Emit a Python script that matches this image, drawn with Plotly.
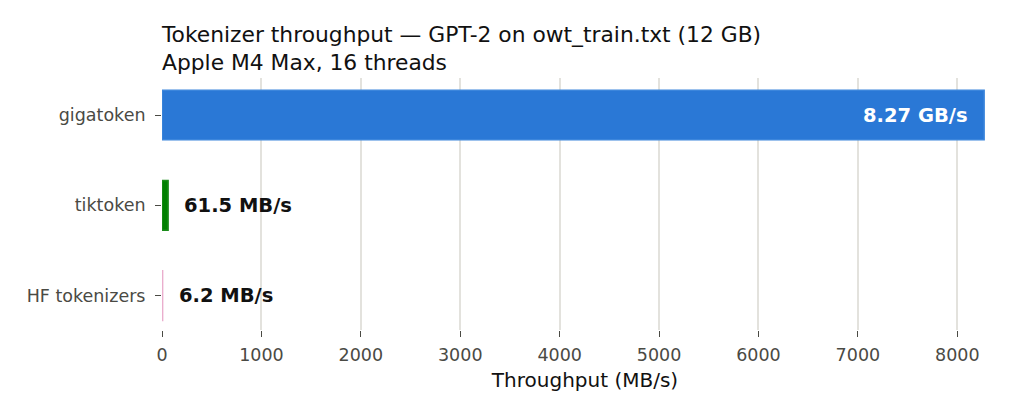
import plotly.graph_objects as go

# data
tokenizers = ['gigatoken', 'tiktoken', 'HF tokenizers']
throughput = [8270, 61.5, 6.2]  # MB/s
labels = ['8.27 GB/s', '61.5 MB/s', '6.2 MB/s']
colors = ['#2a78d6', '#008000', '#e8a6c8']
line_colors = ['#3c86dc', '#1a8c1a', '#eaaecd']
x_ticks = [0, 1000, 2000, 3000, 4000, 5000, 6000, 7000, 8000]

FONT = 'DejaVu Sans'
TICK_GREY = '#4a4a44'

fig = go.Figure()
fig.add_trace(go.Bar(
    y=tokenizers,
    x=throughput,
    orientation='h',
    width=0.55,
    marker=dict(color=colors, line=dict(color=line_colors, width=1.5)),
    hoverinfo='skip',
))

# value labels: the big bar gets its label inside, the small ones outside
for name, val, lab in zip(tokenizers, throughput, labels):
    inside = val > 1000
    fig.add_annotation(
        x=val, y=name, text='<b>%s</b>' % lab,
        showarrow=False,
        xanchor='right' if inside else 'left',
        xshift=-14 if inside else 14,
        font=dict(family=FONT, size=19.5, color='white' if inside else '#111111'),
    )

# page body has an 8px margin, so the figure is a bit smaller than the window
fig.update_layout(
    width=1020, height=406,
    margin=dict(l=154, r=20, t=70, b=84),
    paper_bgcolor='white',
    plot_bgcolor='white',
    showlegend=False,
    font=dict(family=FONT, size=17.5, color=TICK_GREY),
    title=dict(
        text='Tokenizer throughput — GPT-2 on owt_train.txt (12 GB)<br>Apple M4 Max, 16 threads',
        x=0, xref='paper', xanchor='left',
        y=1, yref='paper', yanchor='bottom',
        pad=dict(b=36),
        font=dict(family=FONT, size=21.8, color='#111111'),
    ),
    xaxis=dict(
        range=[0, 8510],
        tickvals=x_ticks,
        showgrid=True, gridcolor='#e3e2dd', gridwidth=1.5,
        zeroline=False, showline=False,
        ticks='outside', ticklen=6, tickcolor=TICK_GREY,
        ticklabelstandoff=3,
        tickfont=dict(family=FONT, size=17.5, color=TICK_GREY),
        title=dict(text='Throughput (MB/s)', standoff=8,
                   font=dict(family=FONT, size=20, color='#111111')),
    ),
    yaxis=dict(
        categoryorder='array', categoryarray=tokenizers,
        range=[2.38, -0.41],
        showgrid=False, zeroline=False, showline=False,
        ticks='outside', ticklen=6, tickcolor=TICK_GREY,
        ticklabelstandoff=6,
        tickfont=dict(family=FONT, size=17.5, color=TICK_GREY),
    ),
)

fig.write_html('out.html')
